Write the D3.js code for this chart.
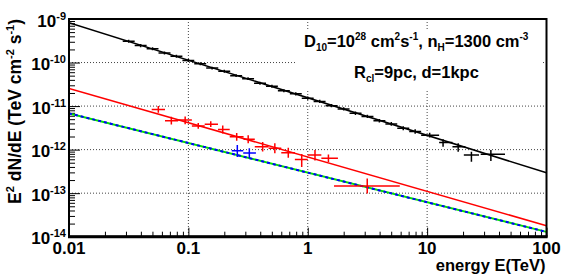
<!DOCTYPE html>
<meta charset="utf-8">
<head>
<style>
  body { margin: 0; background: #fff; }
  text { font-family: "Liberation Sans", Arial, sans-serif; font-weight: bold; }
</style>
</head>
<body>
<div id="chart"></div>
<script src="https://d3js.org/d3.v7.min.js"></script>
<script>
    // chart default setting
    let svgWidth = 581;
    let svgHeight = 279;
    let plot = {left: 69, right: 546.5, top: 19, bottom: 236.7};

    // axis ticks (decades)
    let xMajor = [0.01, 0.1, 1, 10, 100];
    let xLabels = ['0.01', '0.1', '1', '10', '100'];
    let yMajor = [1e-14, 1e-13, 1e-12, 1e-11, 1e-10, 1e-9];
    let yExp = ['-14', '-13', '-12', '-11', '-10', '-9'];

    // model curves, read at both ends of the energy range
    let lineE = [0.01, 100];
    let blackModel = [8.2e-10, 2.93e-13];
    let redModel = [2.55e-11, 1.79e-14];
    let blueModel = [6.8e-12, 1.29e-14];

    // data points: [E, F, Elo, Ehi, Flo, Fhi]
    let blackPts = [
        [0.0316, 3.10e-10, 0.0282, 0.0355, 2.85e-10, 3.35e-10],
        [0.0398, 2.45e-10, 0.0355, 0.0447, 2.25e-10, 2.65e-10],
        [0.0501, 2.08e-10, 0.0447, 0.0562, 1.92e-10, 2.25e-10],
        [0.0631, 1.66e-10, 0.0562, 0.0708, 1.53e-10, 1.80e-10],
        [0.0794, 1.40e-10, 0.0708, 0.0891, 1.29e-10, 1.51e-10],
        [0.100, 1.11e-10, 0.0891, 0.112, 1.03e-10, 1.20e-10],
        [0.126, 9.40e-11, 0.112, 0.141, 8.70e-11, 1.01e-10],
        [0.158, 7.45e-11, 0.141, 0.178, 6.90e-11, 8.05e-11],
        [0.200, 6.30e-11, 0.178, 0.224, 5.85e-11, 6.80e-11],
        [0.251, 5.00e-11, 0.224, 0.282, 4.65e-11, 5.40e-11],
        [0.316, 4.25e-11, 0.282, 0.355, 3.95e-11, 4.60e-11],
        [0.398, 3.35e-11, 0.355, 0.447, 3.10e-11, 3.62e-11],
        [0.501, 2.85e-11, 0.447, 0.562, 2.64e-11, 3.08e-11],
        [0.631, 2.26e-11, 0.562, 0.708, 2.08e-11, 2.45e-11],
        [0.794, 1.91e-11, 0.708, 0.891, 1.76e-11, 2.07e-11],
        [1.00, 1.52e-11, 0.891, 1.12, 1.40e-11, 1.65e-11],
        [1.26, 1.28e-11, 1.12, 1.41, 1.18e-11, 1.39e-11],
        [1.58, 1.02e-11, 1.41, 1.78, 0.94e-11, 1.11e-11],
        [2.00, 8.60e-12, 1.78, 2.24, 7.90e-12, 9.40e-12],
        [2.51, 6.85e-12, 2.24, 2.82, 6.25e-12, 7.50e-12],
        [3.16, 5.80e-12, 2.82, 3.55, 5.30e-12, 6.35e-12],
        [3.98, 4.60e-12, 3.55, 4.47, 4.18e-12, 5.05e-12],
        [5.01, 3.90e-12, 4.47, 5.62, 3.52e-12, 4.30e-12],
        [6.31, 3.10e-12, 5.62, 7.08, 2.78e-12, 3.45e-12],
        [7.94, 2.62e-12, 7.08, 8.91, 2.33e-12, 2.93e-12],
        [10.5, 2.15e-12, 8.91, 12.6, 1.90e-12, 2.45e-12],
        [13.6, 1.46e-12, 12.6, 16.3, 1.16e-12, 1.74e-12],
        [18.2, 1.16e-12, 16.3, 20.9, 0.89e-12, 1.40e-12],
        [23.5, 7.50e-13, 20.3, 27.2, 5.25e-13, 8.90e-13],
        [34.2, 7.80e-13, 28.1, 44.9, 5.50e-13, 9.75e-13]
    ];
    let redPts = [
        [0.056, 8.4e-12, 0.0493, 0.0637, 7.0e-12, 1.0e-11],
        [0.072, 4.6e-12, 0.0637, 0.082, 3.8e-12, 5.68e-12],
        [0.094, 4.8e-12, 0.082, 0.107, 3.85e-12, 5.8e-12],
        [0.121, 3.5e-12, 0.107, 0.137, 3.0e-12, 4.1e-12],
        [0.154, 3.85e-12, 0.137, 0.177, 3.3e-12, 4.5e-12],
        [0.194, 2.9e-12, 0.177, 0.222, 2.35e-12, 3.6e-12],
        [0.254, 1.97e-12, 0.222, 0.29, 1.6e-12, 2.4e-12],
        [0.317, 1.74e-12, 0.29, 0.36, 1.4e-12, 2.15e-12],
        [0.419, 1.16e-12, 0.36, 0.47, 0.9e-12, 1.5e-12],
        [0.53, 1.07e-12, 0.47, 0.60, 8.2e-13, 1.4e-12],
        [0.687, 8.45e-13, 0.60, 0.78, 6.5e-13, 1.1e-12],
        [0.89, 5.96e-13, 0.78, 1.0, 4.0e-13, 7.9e-13],
        [1.15, 7.5e-13, 1.0, 1.3, 5.6e-13, 9.8e-13],
        [1.49, 6.3e-13, 1.3, 1.79, 5.2e-13, 7.7e-13],
        [3.15, 1.46e-13, 1.66, 5.9, 9.8e-14, 2.18e-13]
    ];
    let bluePts = [
        [0.257, 9.4e-13, 0.231, 0.288, 6.8e-13, 1.27e-12],
        [0.324, 8.4e-13, 0.288, 0.368, 6.3e-13, 1.07e-12]
    ];

    let svg = d3.select('#chart')
        .append('svg')
        .attr('width', svgWidth)
        .attr('height', svgHeight);

    let x = d3.scaleLog().domain([0.01, 100]).range([plot.left, plot.right]);
    let y = d3.scaleLog().domain([1e-14, 1e-9]).range([plot.bottom, plot.top]);

    // minor ticks 2..9 for each decade
    function minors(majors) {
        let out = [];
        for (let i = 0; i < majors.length - 1; i++) {
            for (let k = 2; k <= 9; k++) out.push(majors[i] * k);
        }
        return out;
    }

    // grid
    let grid = svg.append('g')
        .attr('stroke', '#444')
        .attr('stroke-width', 1)
        .attr('stroke-dasharray', '1,2');
    grid.selectAll('.gx')
        .data(xMajor.slice(1, -1))
        .enter().append('line')
        .attr('x1', d => x(d)).attr('x2', d => x(d))
        .attr('y1', plot.top).attr('y2', plot.bottom);
    grid.selectAll('.gy')
        .data(yMajor.slice(1, -1))
        .enter().append('line')
        .attr('y1', d => y(d)).attr('y2', d => y(d))
        .attr('x1', plot.left).attr('x2', plot.right);

    // axes (ticks inward)
    let xAxisG = svg.append('g').attr('transform', `translate(0, ${plot.bottom})`);
    xAxisG.append('g')
        .call(d3.axisBottom(x).tickValues(xMajor).tickSize(-9).tickFormat(''));
    xAxisG.append('g')
        .call(d3.axisBottom(x).tickValues(minors(xMajor)).tickSize(-5).tickFormat(''));
    let yAxisG = svg.append('g').attr('transform', `translate(${plot.left}, 0)`);
    yAxisG.append('g')
        .call(d3.axisLeft(y).tickValues(yMajor).tickSize(-11).tickFormat(''));
    yAxisG.append('g')
        .call(d3.axisLeft(y).tickValues(minors(yMajor)).tickSize(-6).tickFormat(''));
    svg.selectAll('.domain').remove();
    svg.selectAll('.tick line').attr('stroke', '#000').attr('stroke-width', 1);

    // tick labels
    svg.append('g').selectAll('text')
        .data(xMajor)
        .enter().append('text')
        .attr('x', d => x(d))
        .attr('y', 253.5)
        .attr('text-anchor', 'middle')
        .attr('font-size', 17)
        .text((d, i) => xLabels[i]);

    let yLab = svg.append('g').selectAll('text')
        .data(yMajor)
        .enter().append('text')
        .attr('x', 66)
        .attr('y', d => y(d) + 7.5)
        .attr('text-anchor', 'end')
        .attr('font-size', 17);
    yLab.append('tspan').text('10');
    yLab.append('tspan')
        .attr('font-size', 11)
        .attr('dy', -7)
        .text((d, i) => yExp[i]);

    // axis titles
    svg.append('text')
        .attr('x', plot.right - 1)
        .attr('y', 271)
        .attr('text-anchor', 'end')
        .attr('font-size', 16.5)
        .text('energy E(TeV)');

    let yt = svg.append('text')
        .attr('transform', 'translate(21, 19) rotate(-90)')
        .attr('text-anchor', 'end')
        .attr('font-size', 17.5);
    yt.append('tspan').text('E');
    yt.append('tspan').attr('font-size', 11).attr('dy', -7).text('2');
    yt.append('tspan').attr('dy', 7).text(' dN/dE (TeV cm');
    yt.append('tspan').attr('font-size', 11).attr('dy', -7).text('-2');
    yt.append('tspan').attr('dy', 7).text(' s');
    yt.append('tspan').attr('font-size', 11).attr('dy', -7).text('-1');
    yt.append('tspan').attr('dy', 7).text(')');

    // clip
    svg.append('clipPath').attr('id', 'clip')
        .append('rect')
        .attr('x', plot.left).attr('y', plot.top)
        .attr('width', plot.right - plot.left).attr('height', plot.bottom - plot.top);

    let body = svg.append('g').attr('clip-path', 'url(#clip)');

    // text box (white, hides grid)
    body.append('rect')
        .attr('x', 295).attr('y', 29)
        .attr('width', 246).attr('height', 60)
        .attr('fill', '#fff');

    let line = d3.line().x(d => x(d[0])).y(d => y(d[1]));
    function model(vals) { return lineE.map((e, i) => [e, vals[i]]); }

    body.append('path').attr('d', line(model(blackModel)))
        .attr('fill', 'none').attr('stroke', '#000').attr('stroke-width', 1.5);
    body.append('path').attr('d', line(model(redModel)))
        .attr('fill', 'none').attr('stroke', '#f00').attr('stroke-width', 1.5);
    body.append('path').attr('d', line(model(blueModel)))
        .attr('fill', 'none').attr('stroke', '#00e000').attr('stroke-width', 2);
    body.append('path').attr('d', line(model(blueModel)))
        .attr('fill', 'none').attr('stroke', '#0000ff').attr('stroke-width', 2)
        .attr('stroke-dasharray', '3,3');

    // error bars
    function drawPoints(pts, color) {
        let g = body.append('g').attr('stroke', color).attr('stroke-width', 1.5);
        g.selectAll('.h').data(pts).enter().append('line')
            .attr('x1', d => x(d[2])).attr('x2', d => x(d[3]))
            .attr('y1', d => y(d[1])).attr('y2', d => y(d[1]));
        g.selectAll('.v').data(pts).enter().append('line')
            .attr('x1', d => x(d[0])).attr('x2', d => x(d[0]))
            .attr('y1', d => y(d[4])).attr('y2', d => y(d[5]));
    }
    drawPoints(blackPts, '#000');
    drawPoints(redPts, '#f00');
    drawPoints(bluePts, '#00f');

    // frame
    svg.append('rect')
        .attr('x', plot.left).attr('y', plot.top)
        .attr('width', plot.right - plot.left).attr('height', plot.bottom - plot.top)
        .attr('fill', 'none').attr('stroke', '#000').attr('stroke-width', 2);
    svg.append('line')
        .attr('x1', plot.left - 1).attr('x2', plot.right + 1)
        .attr('y1', plot.bottom).attr('y2', plot.bottom)
        .attr('stroke', '#000').attr('stroke-width', 3);

    // annotation
    let t1 = svg.append('text').attr('x', 304).attr('y', 47).attr('font-size', 16.5);
    t1.append('tspan').text('D');
    t1.append('tspan').attr('font-size', 10).attr('dy', 4).text('10');
    t1.append('tspan').attr('dy', -4).text('=10');
    t1.append('tspan').attr('font-size', 10).attr('dy', -7).text('28');
    t1.append('tspan').attr('dy', 7).text(' cm');
    t1.append('tspan').attr('font-size', 10).attr('dy', -7).text('2');
    t1.append('tspan').attr('dy', 7).text('s');
    t1.append('tspan').attr('font-size', 10).attr('dy', -7).text('-1');
    t1.append('tspan').attr('dy', 7).text(', n');
    t1.append('tspan').attr('font-size', 10).attr('dy', 4).text('H');
    t1.append('tspan').attr('dy', -4).text('=1300 cm');
    t1.append('tspan').attr('font-size', 10).attr('dy', -7).text('-3');

    let t2 = svg.append('text').attr('x', 354).attr('y', 78).attr('font-size', 16.5);
    t2.append('tspan').text('R');
    t2.append('tspan').attr('font-size', 10).attr('dy', 4).text('cl');
    t2.append('tspan').attr('dy', -4).text('=9pc, d=1kpc');
</script>
</body>
